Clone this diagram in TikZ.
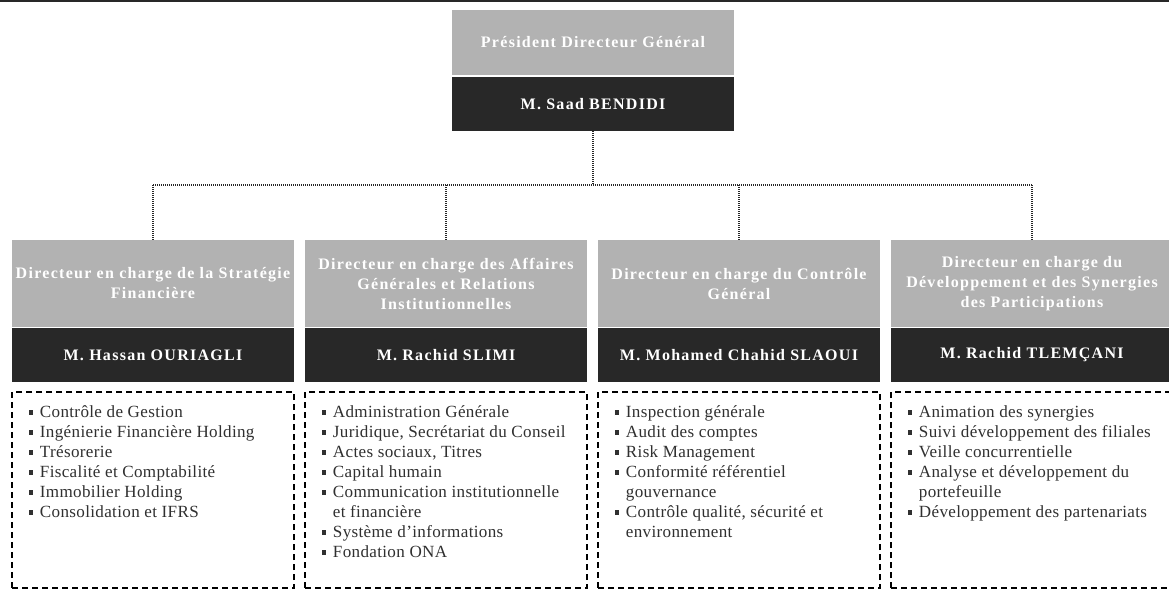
\documentclass[tikz,border=0pt]{standalone}
\usepackage{fontspec}
\setmainfont{Liberation Serif}
\newfontfamily\titrefont[LetterSpace=8]{Liberation Serif}
\newfontfamily\listefont[LetterSpace=2]{Liberation Serif}
\usetikzlibrary{positioning}

\definecolor{grisclair}{HTML}{B2B2B2}
\definecolor{grisfonce}{HTML}{282828}
\definecolor{gristexte}{HTML}{303030}
\newcommand{\puce}{\makebox[8.5pt][l]{\raisebox{2.2pt}{\rule{3.5pt}{3.5pt}}}}
\newcommand{\suite}{\hspace*{8.5pt}}

\begin{document}
\begin{tikzpicture}[x=0.75pt, y=-0.75pt,
  titre/.style={fill=grisclair, text=white, minimum width=211.5pt, minimum height=65.25pt, inner sep=0pt, align=center, font=\titrefont\bfseries\fontsize{12}{15}\selectfont},
  nom/.style={fill=grisfonce, text=white, minimum width=211.5pt, minimum height=40.5pt, inner sep=0pt, font=\titrefont\bfseries\fontsize{12}{15}\selectfont},
  boite/.style={draw=black, line width=1pt, dash pattern=on 4.5pt off 3pt, minimum width=211.5pt, minimum height=147pt, inner sep=0pt},
  liste/.style={align=left, text=gristexte, inner sep=0pt, font=\listefont\fontsize{12.8}{15}\selectfont},
  liaison/.style={draw=black!85, line width=0.9pt, dash pattern=on 0.75pt off 0.75pt}]
\clip (0,0) rectangle (1169,592);

% filet du haut
\draw[line width=1.2pt, draw=grisfonce] (0,1) -- (1169,1);

% Président
\node[titre, minimum height=48.75pt] (pdgtitre) at (593,42.5) {Président Directeur Général};
\node[nom] (pdgnom) at (593,104) {M. Saad BENDIDI};

% Stratégie Financière
\node[titre] (titre1) at (153,283.5) {Directeur en charge de la Stratégie\\Financière};
\node[nom] (nom1) at (153,355) {M. Hassan OURIAGLI};
\node[boite] (boite1) at (153,490) {};
\node[liste, below right=10.5pt and 12.75pt of boite1.north west] (liste1) {\puce Contrôle de Gestion\\
  \puce Ingénierie Financière Holding\\
  \puce Trésorerie\\
  \puce Fiscalité et Comptabilité\\
  \puce Immobilier Holding\\
  \puce Consolidation et IFRS};

% Affaires Générales
\node[titre] (titre2) at (446,283.5) {Directeur en charge des Affaires\\Générales et Relations\\Institutionnelles};
\node[nom] (nom2) at (446,355) {M. Rachid SLIMI};
\node[boite] (boite2) at (446,490) {};
\node[liste, below right=10.5pt and 12.75pt of boite2.north west] (liste2) {\puce Administration Générale\\
  \puce Juridique, Secrétariat du Conseil\\
  \puce Actes sociaux, Titres\\
  \puce Capital humain\\
  \puce Communication institutionnelle\\
  \suite et financière\\
  \puce Système d’informations\\
  \puce Fondation ONA};

% Contrôle Général
\node[titre] (titre3) at (739,283.5) {Directeur en charge du Contrôle\\Général};
\node[nom] (nom3) at (739,355) {M. Mohamed Chahid SLAOUI};
\node[boite] (boite3) at (739,490) {};
\node[liste, below right=10.5pt and 12.75pt of boite3.north west] (liste3) {\puce Inspection générale\\
  \puce Audit des comptes\\
  \puce Risk Management\\
  \puce Conformité référentiel\\
  \suite gouvernance\\
  \puce Contrôle qualité, sécurité et\\
  \suite environnement};

% Développement et Synergies
\node[titre] (titre4) at (1032,283.5) {Directeur en charge du\\Développement et des Synergies\\des Participations};
\node[nom] (nom4) at (1032,355) {M. Rachid TLEMÇANI};
\node[boite] (boite4) at (1032,490) {};
\node[liste, below right=10.5pt and 12.75pt of boite4.north west] (liste4) {\puce Animation des synergies\\
  \puce Suivi développement des filiales\\
  \puce Veille concurrentielle\\
  \puce Analyse et développement du\\
  \suite portefeuille\\
  \puce Développement des partenariats};

% liaisons
\coordinate (bus) at (593,185);
\draw[liaison] (pdgnom.south) -- (bus);
\foreach \i in {1,...,4} \coordinate (b\i) at (titre\i.north |- bus);
\draw[liaison] (b1) -- (b4);
\foreach \i in {1,...,4} \draw[liaison] (b\i) -- (titre\i.north);
\end{tikzpicture}
\end{document}
